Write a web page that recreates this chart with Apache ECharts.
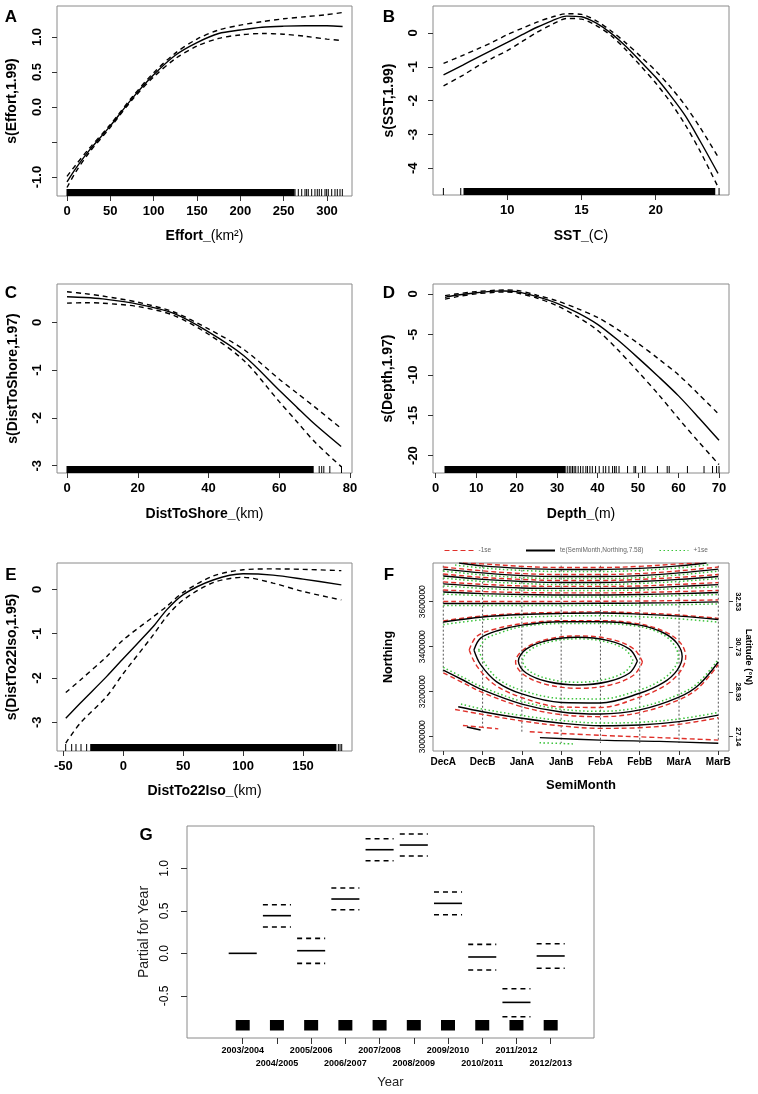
<!DOCTYPE html>
<html><head><meta charset="utf-8">
<script src="https://cdn.jsdelivr.net/npm/echarts@6/dist/echarts.min.js"></script>
<style>html,body{margin:0;padding:0;background:#fff}#c{width:758px;height:1094px}</style>
</head><body><div id="c"></div>
<script>
const FONT = '"Liberation Sans", Arial, Helvetica, sans-serif';

// ---------- Panel A : Effort ----------
const effortX   = [0,10,25,50,75,100,125,150,175,200,225,250,275,300,318];
const effortFit = [-1.07,-0.88,-0.63,-0.27,0.12,0.46,0.74,0.92,1.05,1.10,1.14,1.155,1.16,1.16,1.15];
const effortUp  = [-0.99,-0.83,-0.60,-0.25,0.14,0.49,0.77,0.97,1.10,1.17,1.22,1.26,1.29,1.32,1.35];
const effortLo  = [-1.15,-0.93,-0.66,-0.29,0.10,0.43,0.69,0.87,0.98,1.03,1.05,1.04,1.01,0.97,0.95];
const effortRugBands = [[0,262]];
const effortRugTicks = [263.1,266.9,270.8,274.6,276.5,278.4,282.3,286.1,288.8,291.1,293.8,297.7,299.6,301.5,305.4,309.2,311.9,315,317.7];
const effortXTicks = [0,50,100,150,200,250,300];
const effortYTicks = [-1,-0.5,0,0.5,1];
const effortYLabels = [-1,0,0.5,1];

// ---------- Panel B : SST ----------
const sstX   = [5.7,7,8,9,10,11,12,13,14,15,16,17,18,19,20,21,22,23,24.2];
const sstFit = [-1.24,-0.95,-0.72,-0.50,-0.28,-0.05,0.17,0.36,0.50,0.48,0.29,-0.01,-0.40,-0.85,-1.31,-1.85,-2.45,-3.20,-4.15];
const sstUp  = [-0.90,-0.66,-0.47,-0.27,-0.05,0.14,0.32,0.47,0.57,0.55,0.36,0.06,-0.30,-0.70,-1.12,-1.60,-2.15,-2.80,-3.66];
const sstLo  = [-1.56,-1.25,-0.98,-0.74,-0.52,-0.25,0.02,0.25,0.43,0.41,0.22,-0.08,-0.50,-0.98,-1.48,-2.05,-2.72,-3.50,-4.55];
const sstRugBands = [[7.08,23.98]];
const sstRugTicks = [5.69,6.86,24.27];
const sstXTicks = [10,15,20];
const sstYTicks = [-4,-3,-2,-1,0];

// ---------- Panel C : DistToShore ----------
const shoreX   = [0,5,10,20,30,40,50,60,65,70,77.5];
const shoreFit = [0.535,0.52,0.49,0.38,0.19,-0.20,-0.70,-1.42,-1.78,-2.13,-2.60];
const shoreUp  = [0.64,0.60,0.55,0.42,0.22,-0.14,-0.57,-1.19,-1.48,-1.77,-2.22];
const shoreLo  = [0.40,0.41,0.40,0.33,0.15,-0.25,-0.80,-1.66,-2.08,-2.50,-3.02];
const shoreRugBands = [[0,69.6]];
const shoreRugTicks = [71.3,72,72.6,74.3,77.6];
const shoreXTicks = [0,20,40,60,80];
const shoreYTicks = [-3,-2,-1,0];

// ---------- Panel D : Depth ----------
const depthX   = [2.3,5,10,15,17,20,25,30,35,40,45,50,55,60,65,70];
const depthFit = [-0.41,-0.15,0.16,0.35,0.37,0.30,-0.33,-1.15,-2.3,-3.75,-5.7,-7.9,-10.2,-12.6,-15.3,-18.1];
const depthUp  = [-0.2,0.0,0.3,0.47,0.5,0.45,-0.15,-0.85,-1.8,-2.9,-4.4,-6.1,-8.0,-10.0,-12.4,-14.9];
const depthLo  = [-0.64,-0.35,0.02,0.22,0.25,0.15,-0.5,-1.45,-2.8,-4.5,-6.9,-9.6,-12.4,-15.4,-18.3,-21.1];
const depthRugBands = [[2.3,32]];
const depthRugTicks = [32.5,33,33.4,33.8,34.2,34.6,35.2,35.8,36.4,37.1,37.5,38.1,38.7,39.5,40.4,41.4,42,42.8,43.7,44.2,44.6,45.3,47.4,49,49.4,51.1,51.7,54.8,57.2,57.7,62.2,66.3,68.4,69.4,70];
const depthXTicks = [0,10,20,30,40,50,60,70];
const depthYTicks = [-20,-15,-10,-5,0];

// ---------- Panel E : DistTo22Iso ----------
const isoX   = [-48,-36,-14,0,25,36,50,75,100,125,150,182];
const isoFit = [-2.91,-2.57,-1.97,-1.56,-0.84,-0.47,-0.12,0.21,0.35,0.32,0.23,0.10];
const isoUp  = [-2.33,-2.05,-1.52,-1.14,-0.62,-0.39,-0.07,0.30,0.44,0.46,0.45,0.42];
const isoLo  = [-3.47,-3.02,-2.42,-1.90,-1.03,-0.62,-0.24,0.15,0.27,0.14,-0.05,-0.24];
const isoRugBands = [[-27.2,177.5]];
const isoRugTicks = [-48.1,-43.1,-39.5,-35.3,-30.6,179.5,180.9,182.3];
const isoXTicks = [-50,0,50,100,150];
const isoYTicks = [-3,-2,-1,0];

// ---------- Panel F : te(SemiMonth, Northing) ----------
const fMonths = ['DecA','DecB','JanA','JanB','FebA','FebB','MarA','MarB'];
const fNorthTicks = [3000000,3200000,3400000,3600000];
const fLatTicks = [27.14,28.93,30.73,32.53];
const fDataLineTop    = [3760000,3760000,3760000,3760000,3760000,3760000,3760000,3760000];
const fDataLineBottom = [3282000,3044000,3016000,2972000,2972000,2972000,2972000,2985000];
const fContourFit = [
 [[0.4,3772000],[1,3759000],[2,3748000],[3,3743000],[4,3743000],[5,3748000],[6,3759000],[6.7,3772000]],
 [[0,3745000],[1,3728000],[2,3716000],[3,3712000],[4,3712000],[5,3716000],[6,3728000],[7,3745000]],
 [[0,3714000],[1,3699000],[2,3690000],[3,3685000],[4,3685000],[5,3690000],[6,3699000],[7,3712000]],
 [[0,3679000],[1,3668000],[2,3661000],[3,3659000],[4,3659000],[5,3661000],[6,3668000],[7,3676000]],
 [[0,3643000],[1,3636000],[2,3632000],[3,3630000],[4,3630000],[5,3632000],[6,3636000],[7,3641000]],
 [[0,3592000],[2,3592000],[4,3593000],[5,3594000],[6,3596000],[7,3599000]],
 [[0,3510000],[1,3532000],[2,3543000],[3,3548000],[4,3550000],[5,3545000],[6,3536000],[7,3521000]],
 [[0.78,3385000],[0.95,3438000],[1.4,3472000],[2,3496000],[3,3511000],[4,3511000],[5,3496000],[5.6,3462000],[5.95,3415000],[6.08,3356000],[5.95,3295000],[5.6,3240000],[5,3193000],[4,3150000],[3,3152000],[2,3190000],[1.35,3245000],[0.95,3320000],[0.78,3385000]],
 [[4.94,3336000],[4.74,3389000],[4.18,3428000],[3.43,3442000],[2.67,3428000],[2.11,3389000],[1.91,3336000],[2.11,3283000],[2.67,3244000],[3.43,3230000],[4.18,3244000],[4.74,3283000],[4.94,3336000]],
 [[0,3296000],[0.5,3252000],[1,3208000],[2,3145000],[3,3110000],[4,3101000],[5,3119000],[6,3176000],[6.5,3230000],[7,3332000]],
 [[0.38,3133000],[1,3111000],[2,3082000],[3,3060000],[4,3049000],[5,3052000],[6,3067000],[7,3096000]],
 [[2.46,2996000],[4,2985000],[5.5,2979000],[7,2971000]],
 [[0.6,3043000],[0.95,3030000]]
];
const fContourMinus = [
 [[0.5,3772000],[1,3768000],[2,3757000],[3,3752000],[4,3752000],[5,3757000],[6,3768000],[6.6,3772000]],
 [[0,3754000],[1,3737000],[2,3725000],[3,3721000],[4,3721000],[5,3725000],[6,3737000],[7,3754000]],
 [[0,3723000],[1,3708000],[2,3699000],[3,3694000],[4,3694000],[5,3699000],[6,3708000],[7,3721000]],
 [[0,3688000],[1,3677000],[2,3670000],[3,3668000],[4,3668000],[5,3670000],[6,3677000],[7,3685000]],
 [[0,3652000],[1,3645000],[2,3641000],[3,3639000],[4,3639000],[5,3641000],[6,3645000],[7,3650000]],
 [[0,3601000],[2,3601000],[4,3602000],[5,3603000],[6,3605000],[7,3608000]],
 [[0,3515000],[1,3537000],[2,3548000],[3,3553000],[4,3555000],[5,3550000],[6,3541000],[7,3526000]],
 [[0.66,3385000],[0.85,3446000],[1.35,3480000],[2,3502000],[3,3516000],[4,3516000],[5,3501000],[5.65,3466000],[6.04,3416000],[6.17,3356000],[6.04,3292000],[5.65,3228000],[5,3176000],[4,3130000],[3,3132000],[2,3174000],[1.3,3232000],[0.85,3315000],[0.66,3385000]],
 [[5.07,3332000],[4.85,3390000],[4.27,3433000],[3.46,3448000],[2.65,3433000],[2.06,3390000],[1.84,3332000],[2.06,3274000],[2.65,3231000],[3.46,3215000],[4.27,3231000],[4.85,3274000],[5.07,3332000]],
 [[0,3284000],[0.5,3240000],[1,3196000],[2,3133000],[3,3098000],[4,3089000],[5,3107000],[6,3164000],[6.5,3218000],[7,3320000]],
 [[0.3,3121000],[1,3099000],[2,3070000],[3,3048000],[4,3037000],[5,3040000],[6,3055000],[7,3084000]],
 [[2.2,3022000],[4,3006000],[5.5,2996000],[7,2985000]],
 [[0.5,3050000],[1.4,3035000]]
];
const fContourPlus = [
 [[0.3,3763000],[1,3750000],[2,3739000],[3,3734000],[4,3734000],[5,3739000],[6,3750000],[6.8,3765000]],
 [[0,3736000],[1,3719000],[2,3707000],[3,3703000],[4,3703000],[5,3707000],[6,3719000],[7,3736000]],
 [[0,3705000],[1,3690000],[2,3681000],[3,3676000],[4,3676000],[5,3681000],[6,3690000],[7,3703000]],
 [[0,3670000],[1,3659000],[2,3652000],[3,3650000],[4,3650000],[5,3652000],[6,3659000],[7,3667000]],
 [[0,3634000],[1,3627000],[2,3623000],[3,3621000],[4,3621000],[5,3623000],[6,3627000],[7,3632000]],
 [[0,3583000],[2,3583000],[4,3584000],[5,3585000],[6,3587000],[7,3590000]],
 [[0,3498000],[1,3520000],[2,3531000],[3,3536000],[4,3538000],[5,3533000],[6,3524000],[7,3509000]],
 [[0.9,3385000],[1.06,3432000],[1.45,3462000],[2,3489000],[3,3503000],[4,3503000],[5,3489000],[5.55,3458000],[5.86,3412000],[5.98,3356000],[5.86,3300000],[5.55,3252000],[5,3208000],[4,3168000],[3,3170000],[2,3206000],[1.4,3256000],[1.06,3325000],[0.9,3385000]],
 [[4.83,3338000],[4.64,3386000],[4.13,3422000],[3.43,3435000],[2.72,3422000],[2.21,3386000],[2.02,3338000],[2.21,3290000],[2.72,3255000],[3.43,3242000],[4.13,3255000],[4.64,3290000],[4.83,3338000]],
 [[0,3308000],[0.5,3264000],[1,3220000],[2,3157000],[3,3122000],[4,3113000],[5,3131000],[6,3188000],[6.5,3242000],[7,3344000]],
 [[0.45,3145000],[1,3123000],[2,3094000],[3,3072000],[4,3061000],[5,3064000],[6,3079000],[7,3108000]],
 [[2.45,2973000],[3.3,2968000]]
];

// ---------- Panel G : Year ----------
const gYears = ['2003/2004','2004/2005','2005/2006','2006/2007','2007/2008','2008/2009','2009/2010','2010/2011','2011/2012','2012/2013'];
const gFit   = [0,0.443,0.031,0.639,1.219,1.274,0.588,-0.043,-0.577,-0.031];
const gUpper = [null,0.572,0.176,0.768,1.348,1.404,0.721,0.106,-0.416,0.113];
const gLower = [null,0.309,-0.118,0.513,1.090,1.145,0.454,-0.196,-0.746,-0.176];
const gYTicks = [-0.5,0,0.5,1.0];
const gTicks = [0,1,2,3,4,5,6,7,8,9];
const gLabelsRow1 = [0,2,4,6,8];
const gLabelsRow2 = [1,3,5,7,9];

// ================= build =================
const zip = (xs, ys) => xs.map((x, i) => [x, ys[i]]);
const BOLD = {fontFamily: FONT, fontWeight: 'bold', color: '#000'};

function xAx(gi, min, max, ticks, name, o) {
  o = o || {};
  return {
    type: 'value', gridIndex: gi, min: min, max: max, position: 'bottom',
    splitLine: {show: false}, axisLine: {show: false, onZero: false},
    axisTick: {show: o.noTick ? false : true, length: o.tl || 5, customValues: ticks, lineStyle: {color: '#333'}},
    axisLabel: Object.assign({customValues: o.labels || ticks, margin: o.margin || 9, fontFamily: FONT,
      fontSize: o.fs || 13, fontWeight: o.fw || 'bold', color: '#000', hideOverlap: false,
      showMinLabel: true, showMaxLabel: true}, o.fmt ? {formatter: o.fmt} : {}),
    name: name, nameLocation: 'middle', nameGap: o.gap || 33,
    nameTextStyle: o.nts || Object.assign({fontSize: 14}, BOLD)
  };
}
function yAx(gi, min, max, ticks, name, o) {
  o = o || {};
  const a = {
    type: 'value', gridIndex: gi, min: min, max: max, position: o.pos || 'left',
    splitLine: {show: false}, axisLine: {show: false, onZero: false},
    axisTick: {show: true, length: o.tl || 5, customValues: ticks, lineStyle: {color: '#333'}},
    axisLabel: Object.assign({customValues: o.labels || ticks, rotate: o.rot === undefined ? 90 : o.rot, margin: o.margin || 13,
      fontFamily: FONT, fontSize: o.fs || 13, fontWeight: o.fw || 'bold', color: '#000', hideOverlap: false,
      showMinLabel: true, showMaxLabel: true}, o.fmt ? {formatter: o.fmt} : {}),
    name: name, nameLocation: 'middle', nameGap: o.gap || 37,
    nameTextStyle: o.nts || Object.assign({fontSize: 14}, BOLD)
  };
  if (o.nameRot !== undefined) a.nameRotate = o.nameRot;
  return a;
}
function richName(fs) {
  return {fontFamily: FONT, fontSize: fs, color: '#000', fontWeight: 'bold',
    rich: {b: {fontFamily: FONT, fontSize: fs, fontWeight: 'bold', color: '#000'},
           n: {fontFamily: FONT, fontSize: fs, fontWeight: 'normal', color: '#000'}}};
}
const fix1 = v => v.toFixed(1);

const grids = [
  {left: 57,  top: 6,   width: 295, height: 190},
  {left: 433, top: 6,   width: 296, height: 189},
  {left: 57,  top: 284, width: 295, height: 189},
  {left: 433, top: 284, width: 296, height: 189},
  {left: 57,  top: 563, width: 295, height: 188},
  {left: 433, top: 563, width: 296, height: 188},
  {left: 187, top: 826, width: 407, height: 212}
].map(g => Object.assign(g, {show: true, borderColor: '#8a8a8a', borderWidth: 1, backgroundColor: 'transparent', containLabel: false, outerBoundsMode: 'none'}));

const gFmt = v => gYears[Math.round(v)];
const xAxes = [
  xAx(0, -11.54, 328.85, effortXTicks, '{b|Effort_}{n|(km²)}', {gap: 33, nts: richName(14)}),
  xAx(1, 4.99, 24.94, sstXTicks, '{b|SST_}{n|(C)}', {gap: 34, nts: richName(14)}),
  xAx(2, -2.83, 80.57, shoreXTicks, '{b|DistToShore_}{n|(km)}', {gap: 34, nts: richName(14)}),
  xAx(3, -0.667, 72.47, depthXTicks, '{b|Depth_}{n|(m)}', {gap: 34, nts: richName(14)}),
  xAx(4, -55.34, 190.9, isoXTicks, '{b|DistTo22Iso_}{n|(km)}', {gap: 33, nts: richName(14)}),
  xAx(5, -0.262, 7.272, [0,1,2,3,4,5,6,7], 'SemiMonth', {gap: 28, fs: 10, margin: 6, tl: 4,
      fmt: v => fMonths[Math.round(v)], nts: Object.assign({fontSize: 13}, BOLD)}),
  xAx(6, -1.628, 10.266, gTicks, 'Year', {labels: gLabelsRow1, gap: 38, fs: 9, margin: 8, tl: 6, fmt: gFmt,
      nts: {fontFamily: FONT, fontSize: 13, fontWeight: 'normal', color: '#222'}}),
  xAx(6, -1.628, 10.266, gTicks, '', {labels: gLabelsRow2, noTick: true, fs: 9, margin: 21.3, fmt: gFmt})
];
const yAxes = [
  yAx(0, -1.271, 1.443, effortYTicks, 's(Effort,1.99)', {labels: effortYLabels, fmt: fix1, gap: 38}),
  yAx(1, -4.789, 0.798, sstYTicks, 's(SST,1.99)', {gap: 37}),
  yAx(2, -3.153, 0.801, shoreYTicks, 's(DistToShore,1.97)', {gap: 37}),
  yAx(3, -22.14, 1.237, depthYTicks, 's(Depth,1.97)', {gap: 38}),
  yAx(4, -3.648, 0.593, isoYTicks, 's(DistTo22Iso,1.95)', {gap: 38}),
  yAx(5, 2936445, 3771998, fNorthTicks, 'Northing', {fs: 8.5, fw: 'normal', margin: 6, tl: 4, gap: 38,
      fmt: v => String(v), nts: Object.assign({fontSize: 12.5}, BOLD)}),
  yAx(6, -0.996, 1.498, gYTicks, 'Partial for Year', {fs: 12, fw: 'normal', margin: 16, gap: 35, tl: 6, fmt: fix1,
      nts: {fontFamily: FONT, fontSize: 14, fontWeight: 'normal', color: '#222'}}),
  yAx(5, 26.569, 34.075, fLatTicks, 'Latitude (°N)', {pos: 'right', rot: -90, fs: 7.5, margin: 5, tl: 4, gap: 15, nameRot: -90,
      fmt: v => v.toFixed(2), nts: Object.assign({fontSize: 9.5}, BOLD)})
];

const series = [];
function curve(ai, xs, ys, dashed) {
  series.push({type: 'line', xAxisIndex: ai, yAxisIndex: ai, data: zip(xs, ys), symbol: 'none', smooth: 0.3,
    silent: true, z: 3, lineStyle: {color: '#000', width: 1.4, type: dashed ? [5, 4] : 'solid'}});
}
function rug(ai, bands, ticks, h) {
  const data = bands.map(b => [b[0], b[1], 0]).concat(ticks.map(t => [t, t, 0]));
  series.push({type: 'custom', xAxisIndex: ai, yAxisIndex: ai, data: data, encode: {x: [0, 1], y: 2}, silent: true, z: 2,
    renderItem: function (params, api) {
      const cs = params.coordSys;
      const xa = api.coord([api.value(0), 0])[0];
      const xb = api.coord([api.value(1), 0])[0];
      const yb = cs.y + cs.height;
      return {type: 'rect', shape: {x: xa - 0.5, y: yb - h, width: Math.max(1, xb - xa + 1), height: h}, style: {fill: '#000'}};
    }});
}
const panels = [
  [0, effortX, effortFit, effortUp, effortLo, effortRugBands, effortRugTicks],
  [1, sstX, sstFit, sstUp, sstLo, sstRugBands, sstRugTicks],
  [2, shoreX, shoreFit, shoreUp, shoreLo, shoreRugBands, shoreRugTicks],
  [3, depthX, depthFit, depthUp, depthLo, depthRugBands, depthRugTicks],
  [4, isoX, isoFit, isoUp, isoLo, isoRugBands, isoRugTicks]
];
panels.forEach(p => {
  curve(p[0], p[1], p[2], false);
  curve(p[0], p[1], p[3], true);
  curve(p[0], p[1], p[4], true);
  rug(p[0], p[5], p[6], 7);
});

// Panel F
const NAME_FIT = 'te(SemiMonth,Northing,7.58)', NAME_M = '-1se', NAME_P = '+1se';
series.push({type: 'custom', xAxisIndex: 5, yAxisIndex: 5, silent: true, z: 1,
  data: fMonths.map((m, i) => [i, fDataLineTop[i], fDataLineBottom[i]]), encode: {x: 0, y: [1, 2]},
  renderItem: function (params, api) {
    const a = api.coord([api.value(0), api.value(1)]);
    const b = api.coord([api.value(0), api.value(2)]);
    return {type: 'line', shape: {x1: a[0], y1: a[1], x2: b[0], y2: b[1]}, style: {stroke: '#555', lineWidth: 1, lineDash: [2, 2]}};
  }});
fContourMinus.forEach(d => series.push({type: 'line', name: NAME_M, xAxisIndex: 5, yAxisIndex: 5, data: d, symbol: 'none', smooth: 0.35, silent: true, z: 3,
  lineStyle: {color: '#e0302a', width: 1.4, type: [5, 3]}}));
fContourPlus.forEach(d => series.push({type: 'line', name: NAME_P, xAxisIndex: 5, yAxisIndex: 5, data: d, symbol: 'none', smooth: 0.35, silent: true, z: 3,
  lineStyle: {color: '#3cc43c', width: 1.5, type: [1.5, 2.5]}}));
fContourFit.forEach(d => series.push({type: 'line', name: NAME_FIT, xAxisIndex: 5, yAxisIndex: 5, data: d, symbol: 'none', smooth: 0.35, silent: true, z: 4,
  lineStyle: {color: '#000', width: 1.4}}));

// Panel G
function gSeg(vals, dashed) {
  series.push({type: 'custom', xAxisIndex: 6, yAxisIndex: 6, silent: true, z: 3,
    data: vals.map((v, i) => [i, v]).filter(d => d[1] !== null), encode: {x: 0, y: 1},
    renderItem: function (params, api) {
      const p0 = api.coord([api.value(0) - 0.41, api.value(1)]);
      const p1 = api.coord([api.value(0) + 0.41, api.value(1)]);
      const st = {stroke: '#000', lineWidth: 1.6};
      if (dashed) st.lineDash = [5, 4];
      return {type: 'line', shape: {x1: p0[0], y1: p0[1], x2: p1[0], y2: p1[1]}, style: st};
    }});
}
gSeg(gFit, false); gSeg(gUpper, true); gSeg(gLower, true);
series.push({type: 'custom', xAxisIndex: 6, yAxisIndex: 6, silent: true, z: 3,
  data: gYears.map((y, i) => [i, 0]), encode: {x: 0, y: 1},
  renderItem: function (params, api) {
    const cs = params.coordSys;
    const x = api.coord([api.value(0), 0])[0];
    const yb = cs.y + cs.height;
    return {type: 'rect', shape: {x: x - 7, y: yb - 18, width: 14, height: 10.5}, style: {fill: '#000'}};
  }});

const legendText = {fontFamily: FONT, fontSize: 6.5, color: '#666'};
const legends = [
  {data: [NAME_M], left: 444, top: 547, lineStyle: {width: 1}},
  {data: [NAME_FIT], left: 525, top: 547, lineStyle: {width: 2}},
  {data: [NAME_P], left: 659, top: 547, lineStyle: {width: 1}}
].map(l => Object.assign(l, {itemWidth: 29, itemHeight: 8, itemGap: 5, selectedMode: false, textStyle: legendText, padding: 0,
  itemStyle: {color: 'rgba(0,0,0,0)', borderColor: 'rgba(0,0,0,0)', borderWidth: 0}}));

const letters = [['A', 11, 17], ['B', 389, 17], ['C', 11, 293], ['D', 389, 293], ['E', 11, 575], ['F', 389, 575], ['G', 146, 835]];
const graphic = letters.map(l => ({type: 'text', x: l[1], y: l[2], silent: true,
  style: {text: l[0], align: 'center', verticalAlign: 'middle', fontFamily: FONT, fontSize: 17, fontWeight: 'bold', fill: '#000'}}));

const chart = echarts.init(document.getElementById('c'), null, {renderer: 'canvas'});
chart.setOption({
  animation: false, backgroundColor: '#fff',
  grid: grids, xAxis: xAxes, yAxis: yAxes, series: series, legend: legends, graphic: graphic
});
</script></body></html>
